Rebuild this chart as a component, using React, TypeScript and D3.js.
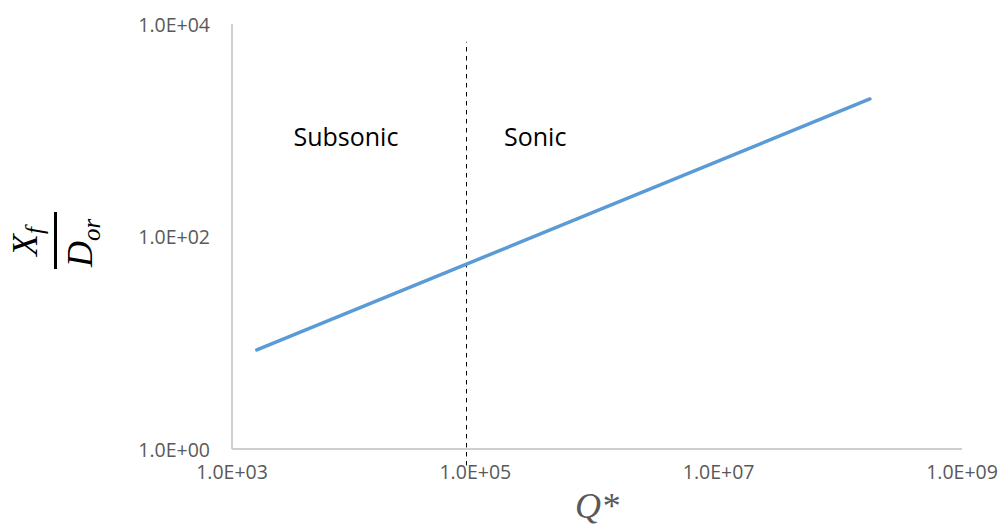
import React from "react";
import * as d3 from "d3";

const W = 1003;
const H = 529;

// Data
const seriesX = [1.6e3, 1.75e8];
const seriesY = [8.55, 1970];
const xTicks = [1e3, 1e5, 1e7, 1e9];
const yTicks = [1, 1e2, 1e4];
const dividerX = [8.4e4, 8.4e4];
const dividerY = [0.7, 6.8e3];
const regionLabels = ["Subsonic", "Sonic"];
const regionLabelX = [3.2e3, 1.72e5];
const regionLabelY = [711, 711];

const fmt = (v: number) => {
  const e = Math.round(Math.log10(v));
  return `1.0E+${String(e).padStart(2, "0")}`;
};

export default function App() {
  const x = d3.scaleLog().domain([1e3, 1e9]).range([232, 962]);
  const y = d3.scaleLog().domain([1, 1e4]).range([449, 24]);
  const line = d3
    .line<number>()
    .x((_, i) => x(seriesX[i]))
    .y((d) => y(d));
  const tickFont = "'Open Sans', sans-serif";
  const cx = 55.5;
  const cy = 240.5;
  const dx = Math.round(x(dividerX[0])) + 0.5;
  return (
    <svg
      width={W}
      height={H}
      style={{ position: "absolute", left: 0, top: 0, background: "#fff" }}
    >
      {/* axes */}
      <line x1={x(1e3)} x2={x(1e3)} y1={y(1e4)} y2={y(1)} stroke="#bfbfbf" strokeWidth={1.5} />
      <line x1={x(1e3)} x2={x(1e9)} y1={y(1)} y2={y(1)} stroke="#bfbfbf" strokeWidth={1.5} />
      {yTicks.map((t) => (
        <text
          key={"y" + t}
          x={210}
          y={y(t)}
          textAnchor="end"
          dominantBaseline="central"
          fontFamily={tickFont}
          fontSize={19.5}
          fill="#595959"
        >
          {fmt(t)}
        </text>
      ))}
      {xTicks.map((t) => (
        <text
          key={"x" + t}
          x={x(t)}
          y={471}
          textAnchor="middle"
          dominantBaseline="central"
          fontFamily={tickFont}
          fontSize={19.5}
          fill="#595959"
        >
          {fmt(t)}
        </text>
      ))}
      {/* divider */}
      <line
        x1={dx}
        x2={dx}
        y1={y(dividerY[0])}
        y2={y(dividerY[1])}
        stroke="#000"
        strokeWidth={1}
        strokeDasharray="4.5 4.5"
      />
      {/* series */}
      <path d={line(seriesY) || ""} fill="none" stroke="#5b9bd5" strokeWidth={3.5} strokeLinecap="round" />
      {regionLabels.map((l, i) => (
        <text
          key={l}
          x={x(regionLabelX[i])}
          y={y(regionLabelY[i])}
          fontFamily={tickFont}
          fontSize={25}
          fill="#000"
        >
          {l}
        </text>
      ))}
      {/* y label */}
      <g transform={`translate(${cx},${cy}) rotate(-90)`} fontFamily="'Liberation Serif', serif" fontStyle="italic" fill="#000">
        <text x={-1} y={-19} textAnchor="middle" fontSize={36}>
          X<tspan fontSize={25} dy={6}>f</tspan>
        </text>
        <line x1={-28.5} x2={28.5} y1={0} y2={0} stroke="#000" strokeWidth={3} />
        <text x={-2.5} y={36.5} textAnchor="middle" fontSize={36}>
          D<tspan fontSize={25} dy={8}>or</tspan>
        </text>
      </g>
      {/* x label */}
      <text x={597} y={518} textAnchor="middle" fontFamily="'Liberation Serif', serif" fontStyle="italic" fontSize={36} fill="#595959">
        Q*
      </text>
    </svg>
  );
}
